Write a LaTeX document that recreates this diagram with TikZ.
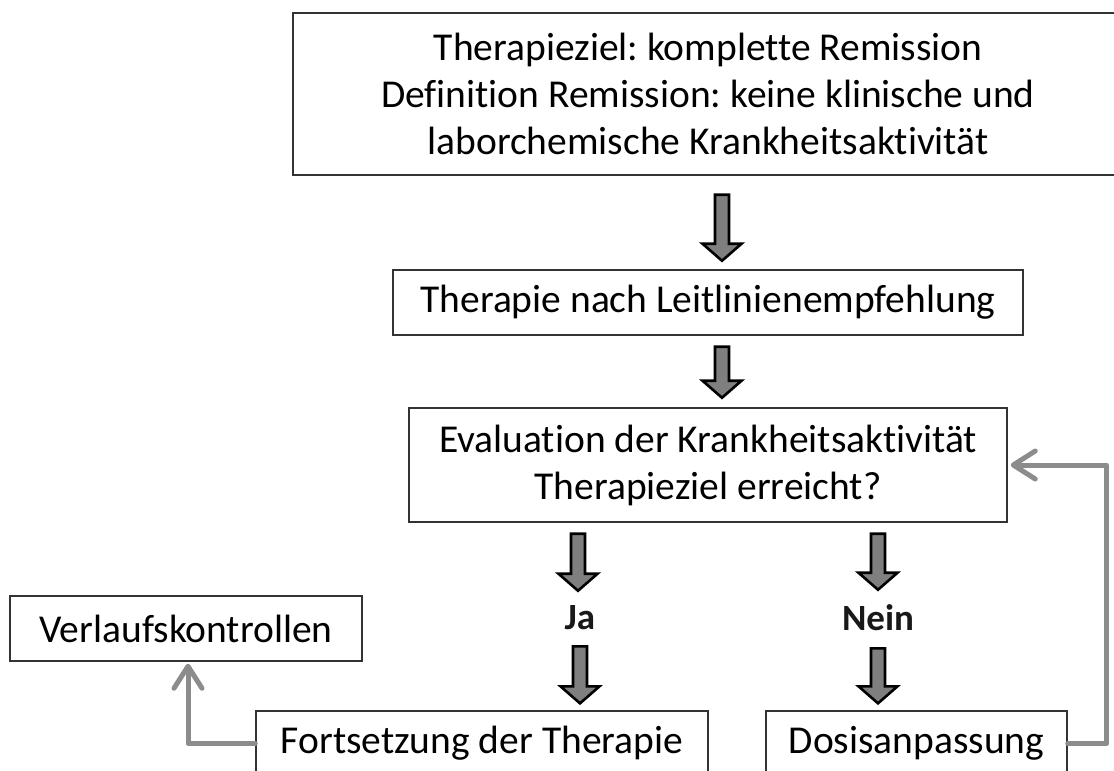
\documentclass[tikz,border=0pt]{standalone}
\usepackage{fontspec}
\setmainfont{Carlito}[Ligatures=NoCommon]
\frenchspacing
\usetikzlibrary{arrows.meta,calc}
\definecolor{arrowgray}{HTML}{7F7F7F}
\definecolor{linkgray}{HTML}{8C8C8C}
\definecolor{boxline}{HTML}{333333}
\tikzset{
  box/.style={draw=boxline, line width=1.5, inner sep=0, align=center,
    font=\fontsize{39.5}{47}\selectfont, text=black},
  lbl/.style={inner sep=0, font=\fontsize{37}{44}\selectfont\bfseries, text=black!90},
  blkarrow/.pic={\draw[line width=2.6, fill=arrowgray, line join=miter]
     (-7,0) -- (7,0) -- (7,#1-17) -- (19.5,#1-17) -- (0,#1) -- (-19.5,#1-17) -- (-7,#1-17) -- cycle;},
  link/.style={draw=linkgray, line width=5, line cap=round, line join=round,
    -{Straight Barb[length=22pt, width=28pt, line cap=round, line join=round]}}
}
\begin{document}
\begin{tikzpicture}[x=1pt, y=-1pt]
\useasboundingbox (0,0) rectangle (1114,771);
\clip (0,0) rectangle (1114,771);
\fill[white] (0,0) rectangle (1114,771);
\node[box, minimum width=830, minimum height=162] (goal) at (708,94)
  {Therapieziel: komplette Remission\\Definition Remission: keine klinische und\\laborchemische Krankheitsaktivität};
\node[box, minimum width=630, minimum height=65] (guide) at (708,302.5)
  {Therapie nach Leitlinienempfehlung};
\node[box, minimum width=598, minimum height=114] (eval) at (708,465)
  {Evaluation der Krankheitsaktivität\\Therapieziel erreicht?};
\node[lbl] (ja) at (580,618) {Ja};
\node[lbl] (nein) at (878,618) {Nein};
\node[box, minimum width=452, minimum height=65] (fort) at (482,743.5)
  {Fortsetzung der Therapie};
\node[box, minimum width=301, minimum height=65] (dos) at (916.5,743.5)
  {Dosisanpassung};
\node[box, minimum width=352, minimum height=65] (verl) at (186,628.5)
  {Verlaufskontrollen};
% block arrows
\pic at ($(goal.south)+(14,19)$) {blkarrow=66};
\pic at ($(guide.south)+(14,11)$) {blkarrow=51};
\pic at ($(eval.south)+(-130,11)$) {blkarrow=57};
\pic at ($(ja.south)+(0,16)$) {blkarrow=57};
\pic at ($(eval.south)+(170,11)$) {blkarrow=56};
\pic at ($(nein.south)+(0,17)$) {blkarrow=55};
% grey feedback connectors
\draw[link] (fort.west) -| ($(verl.south)+(2,2)$);
\draw[link] (dos.east) -- ++(39,0) |- ($(eval.east)+(3,0)$);
\end{tikzpicture}
\end{document}
